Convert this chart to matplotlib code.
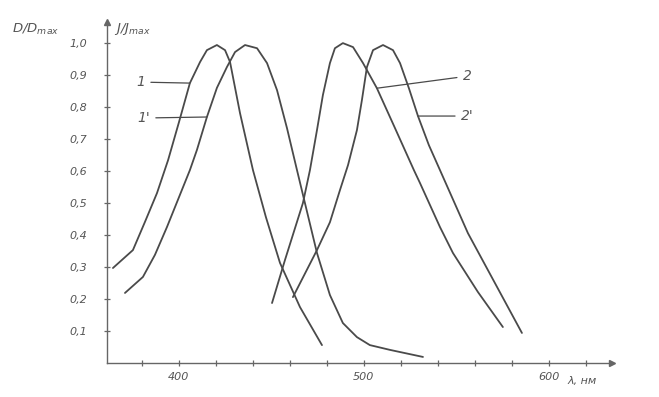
import matplotlib
matplotlib.use("Agg")
import matplotlib.pyplot as plt

# wavelength (nm) and relative value
wl_1 = [364.3, 375.1, 381.6, 388.1, 394.1, 400.0, 405.9, 411.4, 415.1,
        420.5, 424.9, 427.6, 433.0, 440.0, 447.0, 454.6, 465.4, 477.3]
val_1 = [0.297, 0.353, 0.441, 0.531, 0.634, 0.753, 0.875, 0.941, 0.978,
         0.994, 0.978, 0.941, 0.781, 0.603, 0.456, 0.313, 0.175, 0.056]

wl_1p = [370.8, 380.5, 387.0, 393.5, 405.9, 409.7, 415.1, 420.5, 425.9, 430.3,
         435.7, 442.2, 447.6, 453.0, 458.4, 463.8, 474.6, 481.6, 488.6, 496.2,
         503.2, 514.1, 531.9]
val_1p = [0.219, 0.269, 0.338, 0.425, 0.603, 0.666, 0.769, 0.860, 0.925, 0.972,
          0.994, 0.984, 0.9375, 0.853, 0.734, 0.603, 0.344, 0.2125, 0.125, 0.081,
          0.056, 0.041, 0.019]

wl_2 = [450.3, 457.3, 467.0, 470.8, 474.6, 477.8, 481.6, 484.3, 488.6, 494.1,
        499.5, 507.0, 516.8, 527.0, 530.3, 541.1, 548.1, 561.6, 575.1]
val_2 = [0.1875, 0.322, 0.5, 0.603, 0.728, 0.8375, 0.9375, 0.984, 1.0, 0.9875,
         0.9375, 0.859, 0.734, 0.603, 0.5625, 0.425, 0.344, 0.222, 0.1125]

wl_2p = [461.6, 474.6, 481.6, 487.0, 491.4, 496.2, 498.9, 501.6, 504.9, 510.3,
         515.7, 519.5, 524.3, 529.2, 535.1, 541.1, 556.2, 570.8, 585.4]
val_2p = [0.206, 0.353, 0.44, 0.54, 0.619, 0.728, 0.822, 0.925, 0.978, 0.994,
          0.978, 0.9375, 0.859, 0.772, 0.681, 0.603, 0.406, 0.25, 0.094]

y_ticks = [0.1, 0.2, 0.3, 0.4, 0.5, 0.6, 0.7, 0.8, 0.9, 1.0]
y_labels = ["0,1", "0,2", "0,3", "0,4", "0,5", "0,6", "0,7", "0,8", "0,9", "1,0"]
x_major = [400, 500, 600]
x_minor = [380, 420, 440, 460, 480, 520, 540, 560, 580, 620]

ink = "#4a4a4a"
font = dict(family="DejaVu Sans", style="italic", color="#555555", fontsize=8)

fig = plt.figure(figsize=(6.59, 3.97), dpi=100)
ax = fig.add_axes([0.1624, 0.0856, 0.7663, 0.859])

for wl, val in [(wl_1, val_1), (wl_1p, val_1p), (wl_2, val_2), (wl_2p, val_2p)]:
    ax.plot(wl, val, color=ink, lw=1.3, solid_joinstyle="round",
            solid_capstyle="round")

ax.set_xlim(361.1, 634.1)
ax.set_ylim(0, 1.066)

for side in ["top", "right"]:
    ax.spines[side].set_visible(False)
for side in ["left", "bottom"]:
    ax.spines[side].set_color("#666666")
    ax.spines[side].set_linewidth(1.0)

ax.set_yticks(y_ticks)
ax.set_yticklabels(y_labels, **font)
ax.set_xticks(x_major)
ax.set_xticklabels([str(v) for v in x_major], **font)
ax.set_xticks(x_minor, minor=True)
ax.tick_params(axis="both", which="both", direction="inout", length=5,
               width=0.9, color="#666666")
ax.tick_params(axis="y", pad=12)
ax.tick_params(axis="x", pad=4)

# axis arrows
ax.plot(0, 1, marker="^", ms=4, color="#666666", transform=ax.transAxes, clip_on=False)
ax.plot(1, 0, marker=">", ms=4, color="#666666", transform=ax.transAxes, clip_on=False)

# axis titles
big = dict(font, fontsize=9.5)
fig.text(12 / 659, 1 - 29 / 397, "D/D$_{max}$", ha="left", va="center", **big)
fig.text(114 / 659, 1 - 29 / 397, "J/J$_{max}$", ha="left", va="center", **big)
fig.text(567 / 659, 1 - 381 / 397, "λ, нм", ha="left", va="center", **font)

# curve labels with leader lines
lead = dict(arrowstyle="-", color=ink, lw=0.9, shrinkA=2, shrinkB=0)
lab = dict(family="DejaVu Sans", style="italic", color="#555555", fontsize=10,
           textcoords="offset pixels", va="center", ha="center")
ax.annotate("1", xy=(wl_1[6], val_1[6]), xytext=(-49, 1), arrowprops=lead, **lab)
ax.annotate("1'", xy=(wl_1p[6], val_1p[6]), xytext=(-63, -1), arrowprops=lead, **lab)
ax.annotate("2", xy=(wl_2[11], val_2[11]), xytext=(90, 12), arrowprops=lead, **lab)
ax.annotate("2'", xy=(wl_2p[13], val_2p[13]), xytext=(49, 0), arrowprops=lead, **lab)

fig.savefig("out.png", dpi=100)
